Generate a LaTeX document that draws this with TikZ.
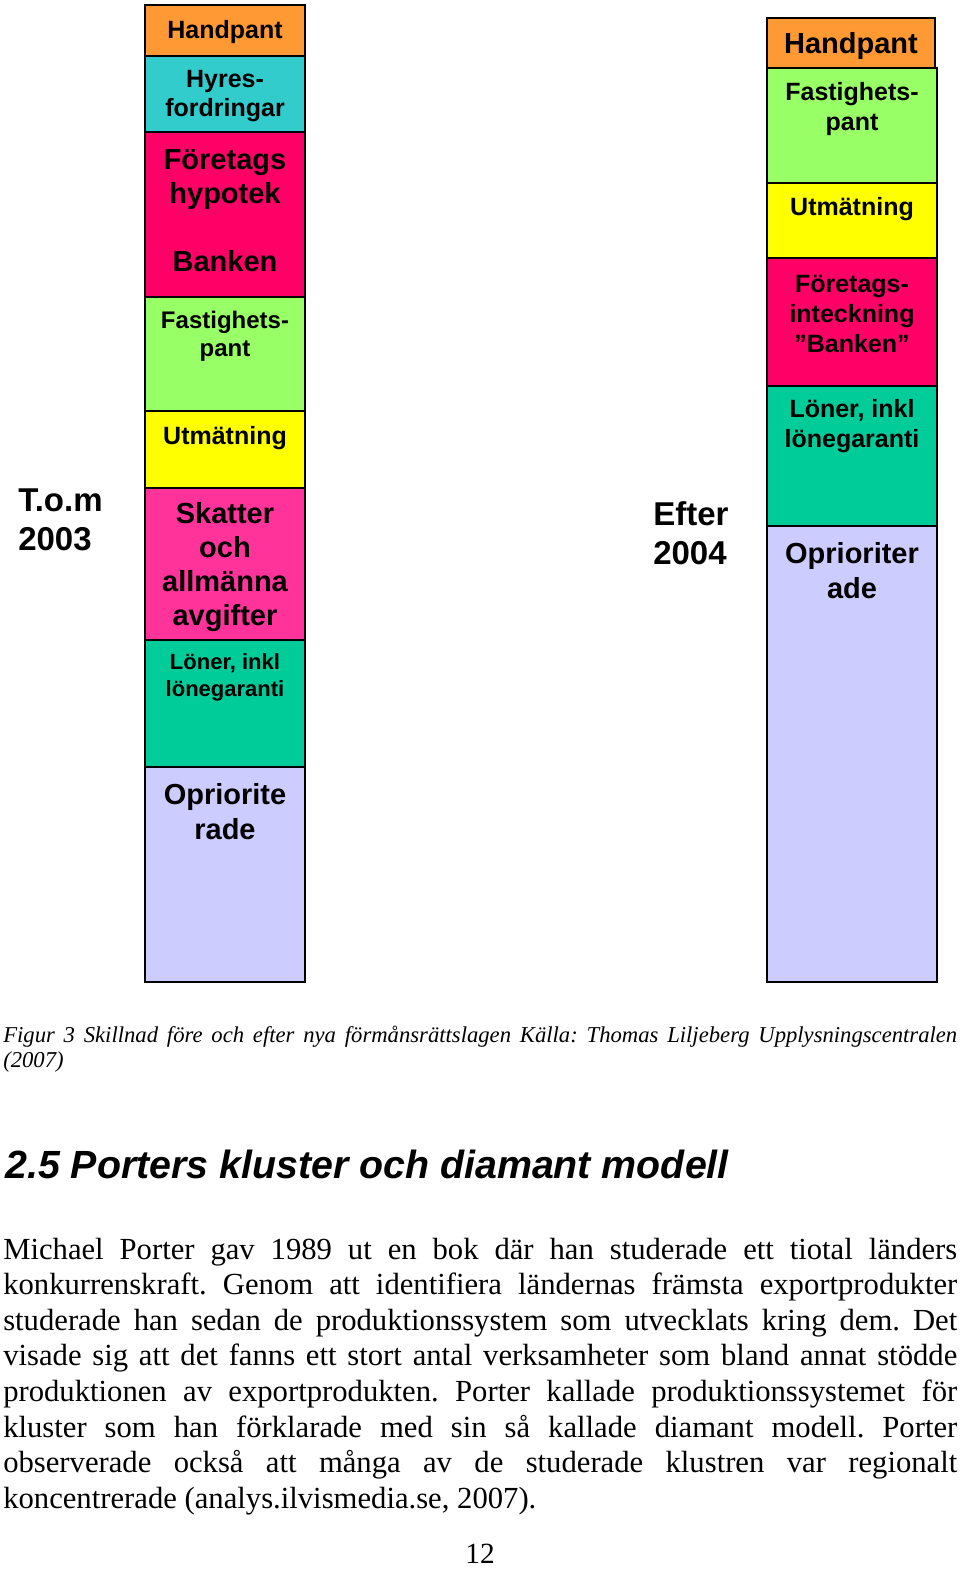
\documentclass[tikz,border=0pt]{standalone}
\usepackage{fontspec}
\setmainfont{Liberation Serif}
\setsansfont{Liberation Sans}
\definecolor{corange}{HTML}{FF9933}
\definecolor{ccyan}{HTML}{33CCCC}
\definecolor{ccrimson}{HTML}{FF0066}
\definecolor{clgreen}{HTML}{99FF66}
\definecolor{cyellow}{HTML}{FFFF00}
\definecolor{cpink}{HTML}{FF3399}
\definecolor{cteal}{HTML}{00CC99}
\definecolor{clav}{HTML}{CCCCFF}
\newcommand\fz[2]{\fontsize{#1pt}{#2pt}\selectfont}
\frenchspacing
\begin{document}
\begin{tikzpicture}[x=0.75pt,y=-0.75pt,
  box/.style={draw=black,line width=1.4pt},
  lbl/.style={align=center,inner sep=0pt},
  sA/.style={lbl,font=\sffamily\bfseries\fz{18.75}{21.75}},
  sB/.style={lbl,font=\sffamily\bfseries\fz{21.75}{25.5}},
  sC/.style={lbl,font=\sffamily\bfseries\fz{18}{21}},
  sD/.style={lbl,font=\sffamily\bfseries\fz{16.5}{20.25}},
  sE/.style={lbl,font=\sffamily\bfseries\fz{21.75}{26.25}},
  sF/.style={lbl,font=\sffamily\bfseries\fz{18.75}{22.5}},
  big/.style={align=left,inner sep=0pt,anchor=west,font=\sffamily\bfseries\fz{24.75}{29.5}},
  body/.style={anchor=base west,inner sep=0pt,font=\frenchspacing\fz{23}{27}},
  capt/.style={anchor=base west,inner sep=0pt,font=\frenchspacing\itshape\fz{17}{20}}
]
\useasboundingbox (0,0) rectangle (960,1569);
\fill[white] (0,0) rectangle (960,1569);

% left column
\draw[box,fill=corange]   (145,5)   rectangle (305,56);
\draw[box,fill=ccyan]     (145,56)  rectangle (305,132);
\draw[box,fill=ccrimson]  (145,132) rectangle (305,297);
\draw[box,fill=clgreen]   (145,297) rectangle (305,411);
\draw[box,fill=cyellow]   (145,411) rectangle (305,488);
\draw[box,fill=cpink]     (145,488) rectangle (305,640);
\draw[box,fill=cteal]     (145,640) rectangle (305,767);
\draw[box,fill=clav]      (145,767) rectangle (305,982);

\node[sA] (l1) at (225,32) {Handpant};
\node[sA] (l2) at (225,96) {Hyres-\\fordringar};
\node[sB] (l3) at (225,211) {Företags\\hypotek\\[25.5pt]Banken};
\node[sC] (l4) at (225,336) {Fastighets-\\pant};
\node[sA] (l5) at (225,438) {Utmätning};
\node[sB] (l6) at (225,567) {Skatter\\och\\allmänna\\avgifter};
\node[sD] (l7) at (225,677) {Löner, inkl\\lönegaranti};
\node[sE] (l8) at (225,812) {Opriorite\\rade};

% right column
\draw[box,fill=corange]   (767,18)  rectangle (935,68);
\draw[box,fill=clgreen]   (767,68)  rectangle (937,183);
\draw[box,fill=cyellow]   (767,183) rectangle (937,258);
\draw[box,fill=ccrimson]  (767,258) rectangle (937,386);
\draw[box,fill=cteal]     (767,386) rectangle (937,526);
\draw[box,fill=clav]      (767,526) rectangle (937,982);

\node[sE] (r1) at (851,46) {Handpant};
\node[sF] (r2) at (852,109) {Fastighets-\\pant};
\node[sF] (r3) at (852,209) {Utmätning};
\node[sF] (r4) at (852,314) {Företags-\\inteckning\\”Banken”};
\node[sF] (r5) at (852,426) {Löner, inkl\\lönegaranti};
\node[sE] (r6) at (852,571) {Oprioriter\\ade};

% side labels
\node[big] (tom) at (18,520) {T.o.m\\2003};
\node[big] (eft) at (653,533) {Efter\\2004};

% caption
\node[capt] (c1) at (3,1042) {\makebox[715.5pt][s]{Figur 3 Skillnad före och efter nya förmånsrättslagen Källa: Thomas Liljeberg Upplysningscentralen}};
\node[capt] (c2) at (3,1067) {(2007)};

% heading
\node[anchor=base west,inner sep=0pt,font=\sffamily\bfseries\itshape\fz{29.5}{36}] (hd) at (5,1178) {2.5 Porters kluster och diamant modell};

% body
\node[body] (b1) at (3,1259) {\makebox[715.5pt][s]{Michael Porter gav 1989 ut en bok där han studerade ett tiotal länders}};
\node[body] (b2) at (3,1294.6) {\makebox[715.5pt][s]{konkurrenskraft. Genom att identifiera ländernas främsta exportprodukter}};
\node[body] (b3) at (3,1330.2) {\makebox[715.5pt][s]{studerade han sedan de produktionssystem som utvecklats kring dem. Det}};
\node[body] (b4) at (3,1365.8) {\makebox[715.5pt][s]{visade sig att det fanns ett stort antal verksamheter som bland annat stödde}};
\node[body] (b5) at (3,1401.4) {\makebox[715.5pt][s]{produktionen av exportprodukten. Porter kallade produktionssystemet för}};
\node[body] (b6) at (3,1437) {\makebox[715.5pt][s]{kluster som han förklarade med sin så kallade diamant modell. Porter}};
\node[body] (b7) at (3,1472.6) {\makebox[715.5pt][s]{observerade också att många av de studerade klustren var regionalt}};
\node[body] (b8) at (3,1508.2) {koncentrerade (analys.ilvismedia.se, 2007).};

% page number
\node[anchor=base,inner sep=0pt,font=\fz{22}{26}] (pg) at (480,1563) {12};
\end{tikzpicture}
\end{document}
